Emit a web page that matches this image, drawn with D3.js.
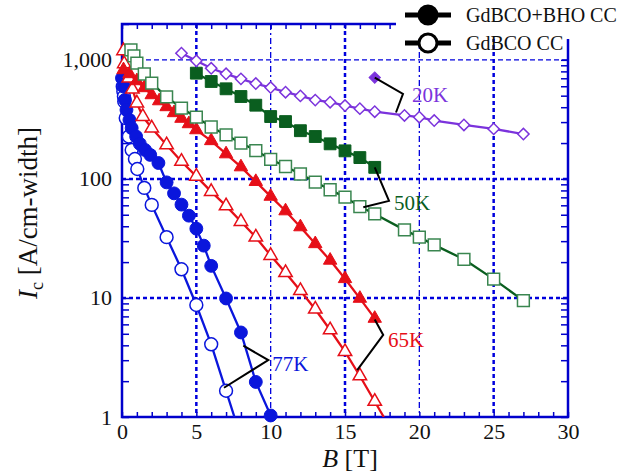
<!DOCTYPE html>
<meta charset="utf-8">
<style>
    body {
        margin: 0;
        background: #fff;
    }

    text {
        font-family: "Liberation Serif", "Times New Roman", serif;
    }
</style>

<body>
    <script src="https://d3js.org/d3.v7.min.js"></script>
    <script>

        // field B [T] and Ic [A/cm-width]
        var b77bho = [0, 0.1, 0.2, 0.3, 0.5, 0.65, 0.95, 1.2, 1.55, 1.9, 2.45, 3, 3.5, 4, 4.5, 5, 5.5, 6, 7, 8, 9, 10];
        var ic77bho = [702, 597, 461, 380, 313, 267, 227, 197, 175, 159, 136, 93.5, 75.6, 60.8, 49.1, 38.2, 27.5, 18.6, 9.9, 5.13, 1.97, 1.03];

        var b77 = [0.05, 0.09, 0.13, 0.15, 0.25, 0.46, 0.65, 0.87, 1.03, 1.5, 2, 3, 4, 5, 6, 7];
        var ic77 = [597, 542, 492, 447, 324, 227, 175, 147, 121, 84, 60.5, 32.4, 17.4, 8.73, 4.08, 1.66];

        var b65bho = [0.1, 0.5, 1, 1.5, 2, 2.5, 3, 3.5, 4, 4.5, 5, 6, 7, 8, 9, 10, 11, 12, 13, 14, 15, 16, 17];
        var ic65bho = [824, 763, 666, 582, 508, 452, 403, 359, 322, 290, 258, 209, 162, 126, 94.9, 71.3, 53.8, 39.5, 28.5, 20.7, 14.5, 9.91, 6.73];

        var b65 = [0.1, 0.15, 0.45, 0.7, 1, 1.4, 2, 3, 4, 5, 6, 7, 8, 9, 10, 11, 12, 13, 14, 15, 16, 17];
        var ic65 = [1190, 925, 701, 567, 433, 334, 267, 193, 140, 105, 78.2, 59.3, 43.8, 32.4, 22.7, 16.3, 11.5, 8.04, 5.38, 3.54, 2.21, 1.35];

        var b50bho = [5, 6, 7, 8, 9, 10, 11, 12, 13, 14, 15, 16, 17];
        var ic50bho = [773, 658, 571, 492, 416, 334, 303, 254, 227, 197, 172, 151, 125];

        var b50 = [0.6, 0.8, 1, 1.5, 2, 3, 4, 5, 6, 7, 8, 9, 10, 11, 12, 13, 14, 15, 16, 17, 19, 20, 21, 23, 25, 27];
        var ic50 = [1213, 1080, 938, 760, 637, 489, 393, 330, 273, 234, 200, 173, 146, 127, 110, 94, 81, 70.3, 58.5, 50.8, 37.3, 32.4, 27.9, 21.1, 14.4, 9.5];

        var b20bho = [17];
        var ic20bho = [710];

        var b20 = [4, 5, 6, 7, 8, 9, 10, 11, 12, 13, 14, 15, 16, 17, 19, 20, 21, 23, 25, 27];
        var ic20 = [1138, 981, 849, 763, 692, 632, 585, 535, 498, 459, 441, 413, 389, 367, 341, 330, 309, 284, 263, 238];

        var xTicks = d3.range(0, 31);
        var xLabels = [0, 5, 10, 15, 20, 25, 30];
        var yLabels = [1, 10, 100, 1000];
        var legendNames = ["GdBCO+BHO CC", "GdBCO CC"];

        var blue = "#0a16dc", red = "#e60f18", green = "#0a5e1f", green2 = "#3a8650", purple = "#7b33dc";
        var axisColor = "#0000cc";

        var series = [
            { b: b77, ic: ic77, color: blue, mk: blue, shape: "circle", filled: false, extend: true },
            { b: b77bho, ic: ic77bho, color: blue, mk: blue, shape: "circle", filled: true },
            { b: b65, ic: ic65, color: red, mk: red, shape: "triangle", filled: false, extend: true },
            { b: b65bho, ic: ic65bho, color: red, mk: red, shape: "triangle", filled: true },
            { b: b50, ic: ic50, color: green, mk: green2, shape: "square", filled: false },
            { b: b50bho, ic: ic50bho, color: green, mk: green, shape: "square", filled: true },
            { b: b20, ic: ic20, color: purple, mk: purple, shape: "diamond", filled: false },
            { b: b20bho, ic: ic20bho, color: purple, mk: purple, shape: "diamond", filled: true }
        ];

        // leader lines and temperature labels, in data units
        var notes = [
            { text: "20K", color: purple, pts: [[17, 710], [18.9, 518], [18.43, 361]], at: [19.5, 444] },
            { text: "50K", color: green, pts: [[17, 125], [17.96, 65.3], [16.23, 57.8]], at: [18.3, 54.8] },
            { text: "65K", color: red, pts: [[17, 6.6], [17.57, 4.89], [15.82, 2.48]], at: [17.9, 3.87] },
            { text: "77K", color: blue, pts: [[8.16, 3.97], [9.84, 3.01], [6.86, 1.76]], at: [10.1, 2.44] }
        ];

        var width = 622, height = 475;
        var x = d3.scaleLinear().domain([0, 30]).range([122, 568]);
        var y = d3.scaleLog().domain([1, 2000]).range([417, 24]);

        var svg = d3.select("body").append("svg")
            .attr("width", width)
            .attr("height", height);

        svg.append("defs").append("clipPath").attr("id", "plot")
            .append("rect")
            .attr("x", x(0)).attr("y", y(2000))
            .attr("width", x(30) - x(0)).attr("height", y(1) - y(2000));

        // grid
        var thickX = [5, 15, 25], thinX = [10, 20];
        var grid = svg.append("g");
        grid.selectAll(".gx")
            .data(thickX.concat(thinX))
            .enter().append("line")
            .attr("x1", d => x(d)).attr("x2", d => x(d))
            .attr("y1", y(2000)).attr("y2", y(1))
            .attr("stroke", "#0000dd")
            .attr("stroke-width", d => thickX.includes(d) ? 2.5 : 1.3)
            .attr("stroke-dasharray", d => thickX.includes(d) ? "4,3" : "6,3,2,3");
        grid.selectAll(".gy")
            .data([10, 100, 1000])
            .enter().append("line")
            .attr("x1", x(0)).attr("x2", x(30))
            .attr("y1", d => y(d)).attr("y2", d => y(d))
            .attr("stroke", "#0000dd")
            .attr("stroke-width", d => d == 1000 ? 1.3 : 2.5)
            .attr("stroke-dasharray", d => d == 1000 ? "5,3" : "4,3");

        // axes
        var yTicks = [];
        [1, 10, 100, 1000].forEach(function (p) {
            for (var k = 1; k < 10; k++) if (p * k <= 2000) yTicks.push(p * k);
        });

        function styleAxis(g) {
            g.attr("font-family", null);
            g.select(".domain").remove();
            g.selectAll("line").attr("stroke", axisColor).attr("stroke-width", 1.5);
            g.selectAll("text").attr("fill", "#111").style("font-size", "22px");
        }

        svg.append("g")
            .attr("transform", "translate(0," + y(1) + ")")
            .call(d3.axisBottom(x).tickValues(xTicks).tickSize(-5).tickPadding(6)
                .tickFormat(d => xLabels.includes(d) ? d : ""))
            .call(styleAxis);

        svg.append("g")
            .attr("transform", "translate(0," + y(2000) + ")")
            .call(d3.axisTop(x).tickValues(xTicks).tickSize(-5).tickFormat(""))
            .call(styleAxis);

        svg.append("g")
            .attr("transform", "translate(" + x(0) + ",0)")
            .call(d3.axisLeft(y).tickValues(yTicks).tickSize(-7).tickPadding(10)
                .tickFormat(d => yLabels.includes(d) ? d3.format(",")(d) : ""))
            .call(styleAxis);

        svg.append("g")
            .attr("transform", "translate(" + x(30) + ",0)")
            .call(d3.axisRight(y).tickValues(yTicks).tickSize(-7).tickFormat(""))
            .call(styleAxis);

        svg.append("rect")
            .attr("x", x(0)).attr("y", y(2000))
            .attr("width", x(30) - x(0)).attr("height", y(1) - y(2000))
            .attr("fill", "none")
            .attr("stroke", axisColor)
            .attr("stroke-width", 2.5);

        // series lines
        var line = d3.line().x(d => x(d[0])).y(d => y(d[1]));
        var plot = svg.append("g").attr("clip-path", "url(#plot)");

        series.forEach(function (s) {
            var pts = s.b.map((b, i) => [b, s.ic[i]]);
            if (s.extend) {
                // carry the last segment on down to the bottom axis
                var a = pts[pts.length - 2], c = pts[pts.length - 1];
                var slope = (Math.log10(c[1]) - Math.log10(a[1])) / (c[0] - a[0]);
                pts = pts.concat([[c[0] - Math.log10(c[1]) / slope, 1]]);
            }
            if (pts.length > 1) {
                plot.append("path")
                    .attr("d", line(pts))
                    .attr("fill", "none")
                    .attr("stroke", s.color)
                    .attr("stroke-width", 2.3);
            }
        });

        // markers
        var symbols = {
            circle: d3.symbol().type(d3.symbolCircle).size(130),
            triangle: d3.symbol().type(d3.symbolTriangle).size(78),
            square: d3.symbol().type(d3.symbolSquare).size(140),
            diamond: d3.symbol().type(d3.symbolSquare).size(64)
        };

        series.forEach(function (s) {
            svg.append("g")
                .selectAll("path")
                .data(s.b.map((b, i) => [b, s.ic[i]]))
                .enter().append("path")
                .attr("d", symbols[s.shape])
                .attr("transform", d => "translate(" + x(d[0]) + "," + y(d[1]) + ")" +
                    (s.shape == "diamond" ? " rotate(45)" : ""))
                .attr("fill", s.filled ? s.color : "white")
                .attr("stroke", s.mk)
                .attr("stroke-width", s.filled ? 1 : 1.5);
        });

        // leader lines and labels
        notes.forEach(function (n) {
            svg.append("path")
                .attr("d", line(n.pts))
                .attr("fill", "none")
                .attr("stroke", "black")
                .attr("stroke-width", 2);
            svg.append("text")
                .attr("x", x(n.at[0]))
                .attr("y", y(n.at[1]))
                .attr("fill", n.color)
                .style("font-size", "21px")
                .text(n.text);
        });

        // axis titles
        svg.append("text")
            .attr("transform", "translate(37,213) rotate(-90)")
            .attr("text-anchor", "middle")
            .style("font-size", "27px")
            .attr("fill", "#111")
            .call(function (t) {
                t.append("tspan").style("font-style", "italic").text("I");
                t.append("tspan").attr("dy", 6).style("font-size", "18px").text("c");
                t.append("tspan").attr("dy", -6).text(" [A/cm-width]");
            });

        svg.append("text")
            .attr("x", 350)
            .attr("y", 467)
            .attr("text-anchor", "middle")
            .style("font-size", "26px")
            .attr("fill", "#111")
            .call(function (t) {
                t.append("tspan").style("font-style", "italic").text("B");
                t.append("tspan").text(" [T]");
            });

        // legend
        svg.append("rect")
            .attr("x", 396).attr("y", 0)
            .attr("width", 226).attr("height", 39)
            .attr("fill", "white");

        var legend = svg.selectAll(".legend")
            .data(legendNames)
            .enter().append("g")
            .attr("class", "legend")
            .attr("transform", (d, i) => "translate(0," + (15 + i * 28) + ")");

        legend.append("line")
            .attr("x1", 405).attr("x2", 451)
            .attr("stroke", "black")
            .attr("stroke-width", 5);

        legend.append("circle")
            .attr("cx", 428)
            .attr("r", 9)
            .attr("fill", (d, i) => i == 0 ? "black" : "white")
            .attr("stroke", "black")
            .attr("stroke-width", 3);

        legend.append("text")
            .attr("x", 466)
            .attr("y", 7)
            .attr("fill", "#111")
            .style("font-size", "20px")
            .text(d => d);

    </script>
</body>
